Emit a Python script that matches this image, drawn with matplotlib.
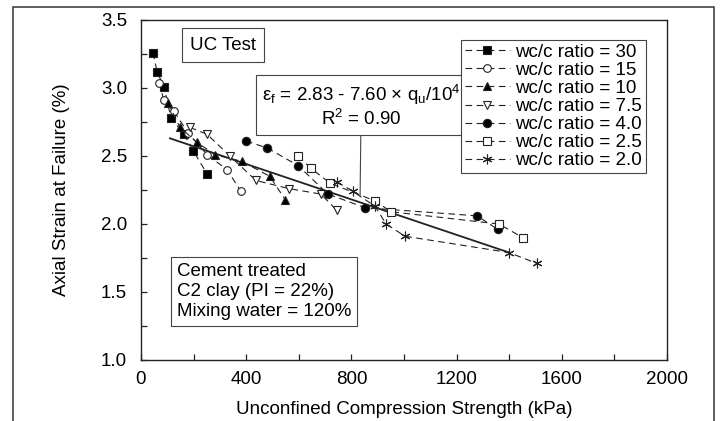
import numpy as np
import matplotlib.pyplot as plt
from matplotlib.patches import Rectangle

plt.rcParams['font.family'] = ['Liberation Sans', 'DejaVu Sans']
plt.rcParams['mathtext.fontset'] = 'custom'
plt.rcParams['mathtext.rm'] = 'Liberation Sans'
plt.rcParams['mathtext.it'] = 'Liberation Sans:italic'

# data: q_u (kPa), axial strain at failure (%)
q_30 = [46, 61, 87, 114, 163, 198, 251]
e_30 = [3.26, 3.12, 3.01, 2.78, 2.66, 2.54, 2.37]
q_15 = [68, 87, 125, 179, 251, 327, 380]
e_15 = [3.04, 2.91, 2.83, 2.67, 2.51, 2.40, 2.24]
q_10 = [103, 148, 213, 281, 384, 490, 548]
e_10 = [2.89, 2.71, 2.60, 2.51, 2.46, 2.35, 2.18]
q_75 = [186, 251, 338, 437, 563, 684, 745]
e_75 = [2.71, 2.66, 2.50, 2.32, 2.26, 2.22, 2.10]
q_40 = [399, 479, 597, 711, 852, 1278, 1357]
e_40 = [2.61, 2.56, 2.43, 2.22, 2.12, 2.06, 1.96]
q_25 = [597, 646, 719, 890, 951, 1361, 1452]
e_25 = [2.50, 2.41, 2.30, 2.17, 2.09, 2.00, 1.90]
q_20 = [745, 806, 890, 932, 1004, 1399, 1506]
e_20 = [2.31, 2.24, 2.13, 2.00, 1.91, 1.79, 1.71]

labels = ['wc/c ratio = 30', 'wc/c ratio = 15', 'wc/c ratio = 10',
          'wc/c ratio = 7.5', 'wc/c ratio = 4.0', 'wc/c ratio = 2.5',
          'wc/c ratio = 2.0']

# regression line as drawn
fit_q = [110, 1400]
fit_e = [2.63, 1.79]

# marker, face colour, size
series = [(q_30, e_30, 's', 'k', 5.5), (q_15, e_15, 'o', 'w', 5.5),
          (q_10, e_10, '^', 'k', 6), (q_75, e_75, 'v', 'w', 6),
          (q_40, e_40, 'o', 'k', 6), (q_25, e_25, 's', 'w', 5.5),
          (q_20, e_20, (6, 2, 0), 'k', 7)]

fig = plt.figure(figsize=(7.21, 4.21), dpi=100)
ax = fig.add_axes([141/721, 1 - 360/421, 526/721, 340/421])

ink = '#222222'
ax.plot(fit_q, fit_e, '-', color=ink, lw=1.3, zorder=2)

for (q, e, m, fc, ms), lab in zip(series, labels):
    ax.plot(q, e, linestyle=(0, (6, 4)), color=ink, lw=0.8, marker=m,
            markersize=ms, markerfacecolor=fc, markeredgecolor=ink,
            markeredgewidth=0.8, label=lab, zorder=3)

ax.set_xlim(0, 2000)
ax.set_ylim(1.0, 3.5)
ax.set_xticks(np.arange(0, 2001, 400))
ax.set_xticks(np.arange(200, 2000, 400), minor=True)
ax.set_yticks(np.arange(1.0, 3.51, 0.5))
ax.set_yticks(np.arange(1.25, 3.5, 0.5), minor=True)
ax.set_yticklabels(['1.0', '1.5', '2.0', '2.5', '3.0', '3.5'])
ax.tick_params(which='both', direction='in', length=4, width=0.9, color=ink,
               labelsize=13.5)
ax.tick_params(axis='x', which='both', top=False, pad=8)
ax.tick_params(axis='y', which='both', right=False, pad=10)
for s in ax.spines.values():
    s.set_linewidth(1.0)
    s.set_color(ink)

ax.set_xlabel('Unconfined Compression Strength (kPa)', fontsize=13.5)
ax.set_ylabel('Axial Strain at Failure (%)', fontsize=13.5)
ax.xaxis.set_label_coords(0.5, -0.12)
ax.yaxis.set_label_coords(-0.135, 0.5)

leg = ax.legend(loc='upper right', bbox_to_anchor=(0.960, 0.941),
                borderaxespad=0, fontsize=13.5, handlelength=2.4,
                handletextpad=0.3, labelspacing=0.05, borderpad=0.2,
                fancybox=False, framealpha=1, edgecolor='#444444')
leg.get_frame().set_linewidth(0.8)

box = dict(boxstyle='square,pad=0.45', fc='white', ec='#444444', lw=0.8)
ax.text(0.156, 0.926, 'UC Test', transform=ax.transAxes, ha='center',
        va='center', fontsize=13.5, bbox=box)

eq = ('\u03b5$_\\mathrm{f}$ = 2.83 - 7.60 \u00d7 q$_\\mathrm{u}$/10$^\\mathrm{4}$\n'
      'R$^\\mathrm{2}$ = 0.90')
ax.annotate(eq, xy=(833, 2.20), xytext=(0.418, 0.747), textcoords='axes fraction',
            ha='center', va='center', fontsize=13.5, linespacing=1.15,
            bbox=dict(boxstyle='square,pad=0.3', fc='white', ec='#444444', lw=0.8),
            arrowprops=dict(arrowstyle='-', color='#444444', lw=0.8,
                            relpos=(0.5, 0), shrinkA=0, shrinkB=0))

ax.text(0.0685, 0.2015, 'Cement treated\nC2 clay (PI = 22%)\nMixing water = 120%',
        transform=ax.transAxes, ha='left', va='center', fontsize=13.5,
        linespacing=1.25,
        bbox=dict(boxstyle='square,pad=0.3', fc='white', ec='#444444', lw=0.8))

fig.patches.append(Rectangle((13/721, -0.1), 701/721, 1.1 - 7/421,
                             transform=fig.transFigure, fill=False,
                             ec='#333333', lw=1.1))

fig.savefig('out.png', dpi=100)
